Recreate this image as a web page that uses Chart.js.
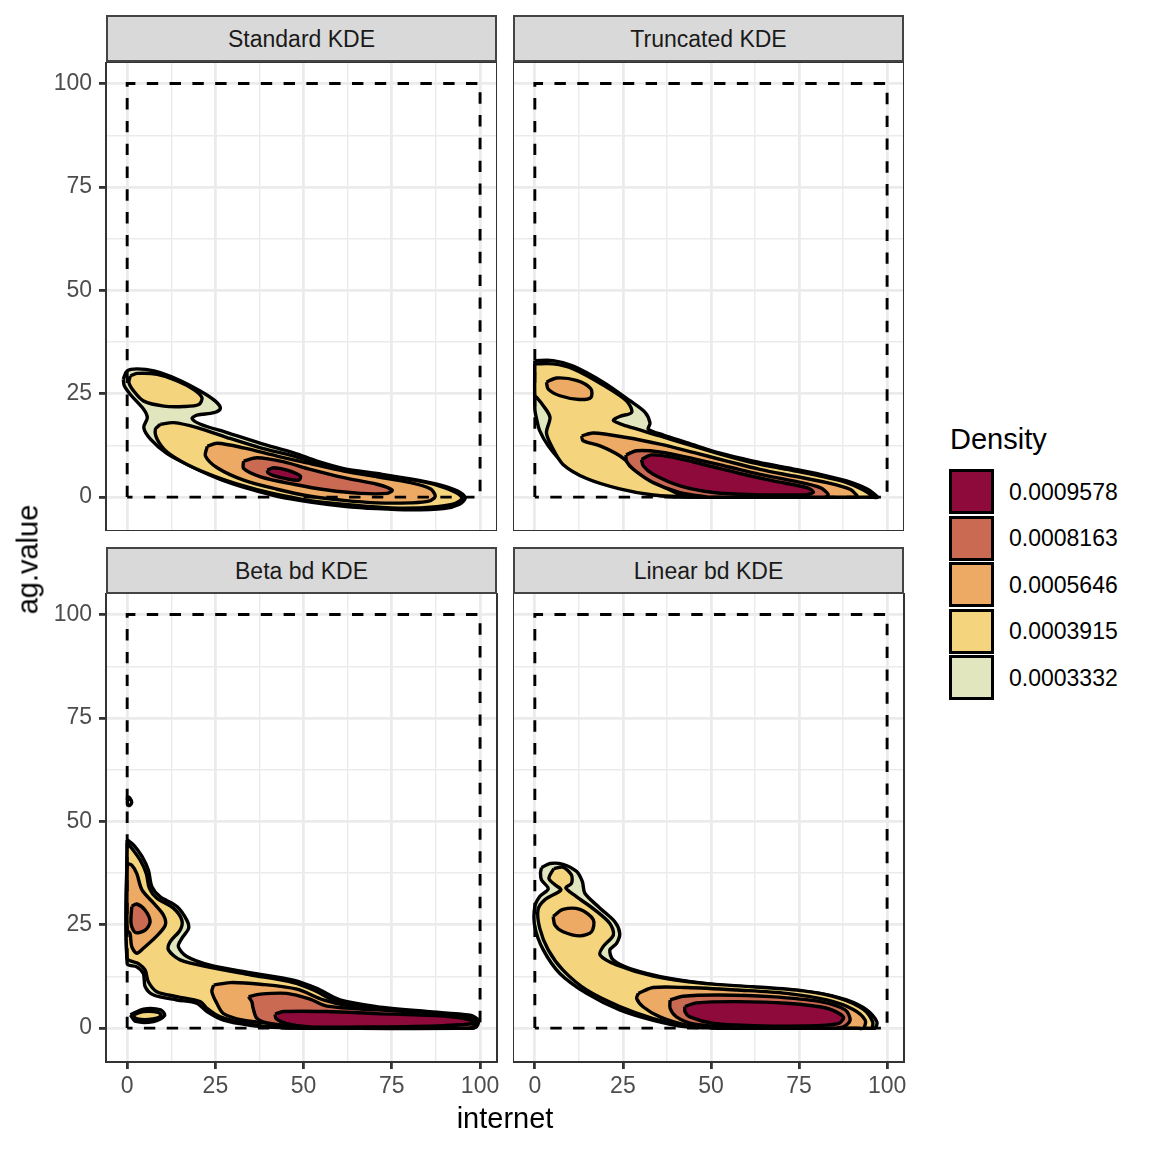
<!DOCTYPE html>
<html>
<head>
<meta charset="utf-8">
<script src="https://cdn.jsdelivr.net/npm/chart.js@4.4.1/dist/chart.umd.min.js"></script>
<style>
html,body{margin:0;padding:0;background:#fff;}
#wrap{position:relative;width:1152px;height:1152px;background:#fff;overflow:hidden;font-family:"Liberation Sans",Arial,Helvetica,sans-serif;}
canvas{position:absolute;}
.strip{position:absolute;box-sizing:border-box;background:#D9D9D9;border:2px solid #444;color:#1A1A1A;font-size:23px;line-height:23px;display:flex;align-items:center;justify-content:center;padding-top:1px;}
.txt{position:absolute;white-space:nowrap;color:#000;}
.key{position:absolute;box-sizing:border-box;border:3px solid #000;}
</style>
</head>
<body>
<div id="wrap">
  <canvas id="c0" width="497" height="469" style="left:0px;top:62px;"></canvas>
  <canvas id="c1" width="391" height="469" style="left:513px;top:62px;"></canvas>
  <canvas id="c2" width="507" height="517" style="left:0px;top:593px;"></canvas>
  <canvas id="c3" width="411" height="517" style="left:513px;top:593px;"></canvas>
</div>
<script>
// ---------- data ----------
const panelTitles = ['Standard KDE', 'Truncated KDE', 'Beta bd KDE', 'Linear bd KDE'];
const xMajor = [0, 25, 50, 75, 100];
const xMinor = [12.5, 37.5, 62.5, 87.5];
const yMajor = [0, 25, 50, 75, 100];
const yMinor = [12.5, 37.5, 62.5, 87.5];
const levelLabels = ['0.0009578', '0.0008163', '0.0005646', '0.0003915', '0.0003332'];
const xAxisTitle = 'internet';
const yAxisTitle = 'ag.value';
const legendTitle = 'Density';
const boundaryX = [0, 0, 100, 100, 0];
const boundaryY = [0, 100, 100, 0, 0];

// Standard KDE contours (level 1 = outermost)
const stdL1 = [[-1.1,28.5],[0,30.5],[2.8,31.0],[7.6,30.5],[14.2,28.5],[20.8,25.6],[25.0,23.2],[26.4,21.4],[24.6,20.4],[19.8,19.8],[18.4,19.0],[20.8,17.6],[28.3,15.6],[37.8,13.0],[47.2,10.7],[53.8,8.7],[61.4,6.9],[70.8,5.7],[80.3,4.4],[87.8,3.1],[93.5,1.5],[95.8,-0.2],[94.0,-1.8],[89.7,-2.8],[80.3,-3.1],[70.8,-2.8],[61.4,-2.2],[51.9,-1.2],[42.5,0.2],[34.9,1.9],[26.4,4.3],[18.9,7.1],[11.3,10.5],[6.6,14.0],[4.7,16.8],[5.7,19.2],[4.7,21.2],[0.9,24.8],[-0.8,26.9]];
const stdL2a = [[0.9,29.3],[2.8,29.9],[8.5,29.7],[14.2,28.1],[18.9,26.0],[21.2,24.0],[20.3,22.4],[16.1,21.9],[10.4,22.0],[4.7,23.2],[1.9,25.6],[0.5,27.7]];
const stdL2b = [[9.4,17.6],[13.2,18.0],[19.8,16.8],[28.3,14.4],[37.8,11.9],[47.2,9.9],[56.7,7.5],[66.1,6.0],[75.5,4.9],[85.0,3.5],[91.6,1.7],[94.9,-0.2],[93.0,-1.5],[87.8,-2.3],[78.4,-2.7],[68.9,-2.3],[59.5,-1.6],[50.0,-0.6],[40.6,1.0],[33.0,2.7],[24.6,5.1],[17.0,7.9],[11.3,10.9],[8.5,14.0],[8.0,16.4]];
const stdL3 = [[22.7,12.3],[25.5,13.0],[33.0,11.9],[42.5,9.9],[51.9,8.1],[61.4,6.3],[70.8,4.9],[80.3,3.5],[85.9,2.0],[87.3,0.2],[85.5,-1.0],[80.3,-1.4],[70.8,-1.4],[61.4,-0.8],[51.9,0.2],[42.5,1.9],[33.0,4.1],[25.5,7.1],[22.2,9.9]];
const stdL4 = [[33.0,8.7],[36.8,9.5],[44.4,8.5],[51.9,6.7],[61.4,4.7],[70.8,3.1],[75.1,1.7],[73.7,0.9],[66.1,0.9],[56.7,1.7],[47.2,3.1],[37.8,4.9],[33.0,6.9]];
const stdL5 = [[39.7,6.5],[41.5,7.1],[45.3,6.5],[49.1,5.1],[48.6,4.1],[45.3,4.4],[41.5,5.2],[39.9,5.9]];

// Truncated KDE contours
const trL1 = [[0,33.0],[5.2,33.0],[10.9,31.7],[19.4,27.8],[27.0,23.3],[31.3,20.5],[32.7,17.9],[32.2,16.4],[36.5,15.0],[43.1,13.2],[52.6,10.6],[62.0,8.7],[71.5,7.1],[81.0,5.5],[88.5,3.9],[94.2,2.0],[97.3,0],[95.5,0],[62.0,0],[40.0,0],[38.4,0.1],[33.6,0.6],[24.1,2.3],[14.7,4.7],[8.0,8.3],[3.8,12.4],[1.4,16.0],[0.5,18.9],[0,21.3]];
const trL2 = [[0,32.2],[5.2,32.2],[10.9,31.0],[19.4,27.1],[26.0,23.3],[27.5,20.5],[24.1,19.5],[22.3,18.5],[26.0,17.2],[35.5,14.8],[43.1,12.8],[52.6,10.4],[62.0,8.3],[71.5,6.7],[81.0,5.1],[88.5,3.5],[93.3,1.7],[95.9,0],[94.2,0],[60.0,0],[43.0,0],[41.2,0.1],[33.6,0.5],[24.1,2.0],[14.7,4.5],[8.0,7.9],[4.7,12.4],[3.3,15.6],[4.3,19.3],[2.4,22.1],[0.5,24.1],[0,24.5]];
const trL3a = [[3.3,27.8],[6.2,28.8],[11.8,28.2],[15.9,26.2],[15.9,24.1],[12.6,23.6],[7.1,24.5],[3.8,26.1]];
const trL3b = [[13.3,14.8],[16.6,15.5],[26.0,14.4],[35.5,12.8],[45.0,10.8],[54.5,8.7],[63.9,6.7],[73.4,5.1],[82.9,3.5],[89.5,1.9],[91.4,0.4],[91.4,0],[89.5,0],[48.0,0],[45.0,0.1],[41.2,0.6],[35.5,3.1],[28.9,6.7],[24.1,10.0],[18.5,12.4],[13.7,13.6]];
const trL4 = [[25.9,10.2],[28.9,11.2],[35.5,10.9],[45.0,9.3],[54.5,7.4],[63.9,5.5],[73.4,3.9],[81.0,2.3],[83.3,0.6],[82.5,0],[80.0,0],[50.0,0],[48.8,0.05],[41.2,1.1],[33.6,3.5],[28.0,6.7],[26.0,8.7]];
const trL5 = [[30.3,9.1],[33.1,10.2],[39.3,9.6],[48.8,7.7],[58.2,5.7],[67.7,3.9],[77.2,2.3],[79.1,1.2],[77.2,0.6],[62.0,0.6],[50.7,1.1],[41.2,2.7],[33.6,5.5],[30.8,7.5]];

// Beta bd KDE contours
const btDot = [[0.1,56.0],[0.8,55.6],[1.3,54.6],[0.7,53.8],[0.1,54.0]];
const btL1 = [[0,45.5],[1.8,44.3],[4.2,41.5],[6.0,38.2],[7.0,34.2],[9.3,31.8],[14.1,29.4],[16.9,26.1],[17.4,24.1],[15.5,21.7],[14.5,19.7],[16.9,17.3],[23.5,15.2],[34.8,13.4],[47.1,11.6],[53.7,9.6],[60.3,6.8],[70.7,5.2],[84.9,4.0],[97.2,3.1],[99.5,1.9],[99.0,0.3],[97.0,0],[89.6,0],[50.0,0],[44.0,0.1],[34.8,0.7],[27.3,1.9],[22.6,4.0],[19.7,6.0],[14.1,6.8],[7.5,8.0],[5.1,10.0],[4.6,13.2],[2.7,14.8],[0,15.6]];
const btL1s = [[0.9,3.2],[4.6,4.6],[9.5,4.4],[10.6,3.0],[7.5,1.6],[2.5,1.6]];
const btL2 = [[0,44.7],[1.3,43.5],[3.7,40.6],[5.4,37.4],[6.3,33.8],[8.4,31.4],[13.1,29.0],[15.5,26.1],[15.0,23.7],[12.2,20.9],[11.7,18.9],[15.0,16.5],[23.5,14.7],[34.8,12.9],[47.1,11.0],[52.8,9.2],[59.4,6.4],[70.7,4.8],[84.9,3.7],[96.7,2.7],[99.0,1.5],[98.6,0.3],[96.5,0],[50.0,0],[44.0,0.1],[34.8,0.9],[26.4,2.7],[22.6,4.8],[20.7,6.4],[14.1,7.6],[8.4,8.8],[6.0,11.2],[5.1,14.0],[3.2,15.6],[0,16.9]];
const btL2s = [[1.5,3.1],[4.6,4.0],[8.8,3.8],[9.6,3.0],[7.3,2.2],[2.9,2.2]];
const btL3a = [[0,39.8],[1.3,39.4],[2.7,37.4],[4.2,33.4],[7.5,30.2],[10.3,27.3],[10.8,24.9],[8.2,22.1],[4.6,19.3],[2.7,18.1],[1.3,19.7],[0.8,22.9],[0,23.7]];
const btL3b = [[24.5,10.4],[29.2,11.0],[37.7,10.6],[48.1,9.4],[55.6,6.8],[63.2,5.3],[75.4,4.4],[89.6,3.5],[97.6,2.7],[99.0,1.1],[98.1,0],[96.0,0],[50.0,0],[48.1,0.05],[40.5,1.1],[32.9,1.9],[27.3,3.5],[25.4,6.0],[24.0,8.8]];
const btL4a = [[1.3,29.4],[2.7,30.0],[5.1,28.5],[6.5,25.7],[5.1,23.7],[2.3,23.1],[1.1,25.3]];
const btL4b = [[34.4,7.6],[37.7,8.2],[45.2,8.4],[51.8,7.0],[56.6,5.3],[70.7,4.4],[89.6,3.5],[98.1,2.3],[98.6,0.7],[97.0,0],[53.0,0],[51.8,0.05],[40.5,1.1],[36.8,2.3],[35.7,4.8],[35.3,6.4]];
const btL5 = [[41.9,3.4],[44.3,4.0],[56.6,4.0],[70.7,3.5],[89.6,2.9],[97.6,1.9],[98.1,1.1],[89.6,0.6],[70.7,0.3],[51.8,0.3],[45.2,1.1],[42.2,2.3]];

// Linear bd KDE contours
const lnL1 = [[1.9,38.8],[4.3,39.8],[8.0,39.6],[11.8,37.9],[13.5,35.4],[14.2,32.6],[18.5,29.0],[22.7,25.7],[24.1,22.9],[23.2,20.5],[21.3,18.9],[22.2,16.5],[27.0,14.4],[38.4,12.0],[52.6,10.4],[66.8,9.6],[81.0,8.4],[88.5,6.8],[94.2,4.4],[97.1,1.5],[96.6,0],[95.0,0],[54.0,0],[52.6,0],[43.1,0.3],[33.6,1.9],[24.1,4.4],[14.7,8.4],[7.1,13.2],[2.4,18.9],[0,24.5],[0,29.4],[1.4,31.8],[3.8,33.7],[1.9,35.8],[1.6,37.5]];
const lnL2 = [[5.4,38.6],[8.0,38.9],[10.4,37.0],[10.4,35.0],[8.8,33.9],[11.8,31.8],[17.0,28.6],[21.3,25.3],[22.3,22.5],[19.4,19.7],[18.5,17.7],[23.2,15.3],[33.6,12.6],[47.8,10.8],[62.0,10.0],[76.2,9.0],[86.6,7.2],[93.3,4.5],[95.9,1.5],[95.6,0],[94.0,0],[56.0,0],[54.5,0],[43.1,0.5],[33.6,2.3],[24.1,5.2],[14.7,9.2],[8.0,14.0],[3.8,18.9],[1.4,24.1],[0.9,28.6],[2.8,31.0],[7.4,33.4],[5.8,34.6],[4.0,36.2]];
const lnL3a = [[5.2,27.0],[8.0,28.7],[12.8,28.7],[16.6,26.2],[16.1,23.3],[12.8,22.3],[8.0,23.3],[5.7,24.9]];
const lnL3b = [[29.4,8.4],[33.6,9.8],[43.1,9.8],[57.3,9.2],[71.5,8.4],[82.9,6.8],[90.4,4.5],[93.8,1.9],[93.3,0],[91.5,0],[54.0,0],[52.6,0],[43.1,0.7],[35.5,2.7],[30.8,5.1],[28.9,7.2]];
const lnL4 = [[38.4,6.8],[42.1,7.7],[52.6,8.0],[66.8,7.6],[81.0,6.4],[88.1,4.4],[89.5,1.9],[87.6,0.3],[85.0,0],[58.0,0],[57.3,0],[45.0,1.0],[40.2,2.7],[38.4,4.8]];
const lnL5 = [[42.6,5.2],[45.9,6.1],[57.3,6.4],[71.5,6.0],[82.9,4.8],[87.6,2.7],[86.2,1.1],[76.2,0.5],[62.0,0.6],[50.7,1.1],[44.0,2.7],[42.6,4.0]];

// ---------- styles ----------
const FONT = '"Liberation Sans", Arial, Helvetica, sans-serif';
const fillByLevel = ['#E1E6BF', '#F4D57E', '#EDAA65', '#CB6A53', '#8D0A3B']; // level 1..5
const legendColors = ['#8D0A3B', '#CB6A53', '#EDAA65', '#F4D57E', '#E1E6BF'];

// panels: [level, polygon] in drawing order
const panels = [
  {id:'c0', title:0, layers:[[1,stdL1],[2,stdL2a],[2,stdL2b],[3,stdL3],[4,stdL4],[5,stdL5]], showX:false, showY:true, padR:0, xmin:-6.0, xmax:104.8},
  {id:'c1', title:1, layers:[[1,trL1],[2,trL2],[3,trL3a],[3,trL3b],[4,trL4],[5,trL5]], showX:false, showY:false, padR:0, xmin:-6.2, xmax:104.8},
  {id:'c2', title:2, layers:[[1,btDot],[1,btL1],[1,btL1s],[2,btL2],[2,btL2s],[3,btL3a],[3,btL3b],[4,btL4a],[4,btL4b],[5,btL5]], showX:true, showY:true, padR:10, xmin:-6.0, xmax:104.8},
  {id:'c3', title:3, layers:[[1,lnL1],[2,lnL2],[3,lnL3a],[3,lnL3b],[4,lnL4],[5,lnL5]], showX:true, showY:false, padR:20, xmin:-6.2, xmax:104.8}
];

const panelBorder = {
  id: 'panelBorder',
  afterDraw(chart) {
    const {ctx, chartArea: a} = chart;
    ctx.save();
    ctx.strokeStyle = '#333333';
    ctx.lineWidth = 2;
    ctx.strokeRect(a.left, a.top, a.right - a.left, a.bottom - a.top);
    ctx.restore();
  }
};

function fixSize(prop, v) {
  return s => { s[prop] = v; s.paddingLeft = 0; s.paddingRight = 0; s.paddingTop = 0; s.paddingBottom = 0; };
}
function axisCfg(major, minor, min, max, show, pos, sizeProp, size, pad) {
  const all = major.concat(minor).sort((a, b) => a - b);
  return {
    type: 'linear', position: pos, min: min, max: max,
    afterBuildTicks: s => { s.ticks = all.map(v => ({value: v})); },
    afterFit: fixSize(sizeProp, size),
    ticks: {
      display: show, autoSkip: false, maxRotation: 0, minRotation: 0, padding: pad,
      color: '#4D4D4D', font: {family: FONT, size: 23},
      callback: v => major.includes(v) ? String(v) : ''
    },
    grid: {
      color: '#EBEBEB',
      lineWidth: c => (c.tick && major.includes(c.tick.value)) ? 2.8 : 1.4,
      drawTicks: show, tickLength: 7, tickWidth: 2.8,
      tickColor: c => (c.tick && major.includes(c.tick.value)) ? '#333333' : 'rgba(0,0,0,0)'
    },
    border: {display: false}
  };
}

const toPts = poly => poly.concat([poly[0]]).map(p => ({x: p[0], y: p[1]}));

panels.forEach(p => {
  const datasets = p.layers.map((l, k) => ({
    data: toPts(l[1]),
    showLine: true,
    fill: 'shape',
    backgroundColor: fillByLevel[l[0] - 1],
    borderColor: '#000000',
    borderWidth: 3.4,
    borderJoinStyle: 'round',
    pointRadius: 0,
    pointHoverRadius: 0,
    tension: 0.3,
    order: 1000 - k
  }));
  datasets.push({
    data: boundaryX.map((x, i) => ({x: x, y: boundaryY[i]})),
    showLine: true, fill: false,
    borderColor: '#000000', borderWidth: 2.9, borderDash: [11.4, 11.4],
    borderCapStyle: 'butt', pointRadius: 0, tension: 0, order: 0
  });
  new Chart(document.getElementById(p.id), {
    type: 'scatter',
    data: {datasets: datasets},
    options: {
      responsive: false, maintainAspectRatio: false, animation: false,
      events: [],
      layout: {padding: {left: 0, right: p.padR, top: 0, bottom: 0}, autoPadding: false},
      plugins: {legend: {display: false}, tooltip: {enabled: false}, title: {display: false}},
      scales: {
        x: axisCfg(xMajor, xMinor, p.xmin, p.xmax, p.showX, 'bottom', 'height', p.showX ? 48 : 0, 4),
        y: axisCfg(yMajor, yMinor, -8.2, 105.2, p.showY, 'left', 'width', p.showY ? 106 : 0, 7)
      }
    },
    plugins: [panelBorder]
  });
});

// ---------- text: strips, axis titles, legend ----------
const wrap = document.getElementById('wrap');
function addDiv(cls, text, style) {
  const d = document.createElement('div');
  d.className = cls;
  d.textContent = text;
  Object.assign(d.style, style);
  wrap.appendChild(d);
  return d;
}
const stripPos = [[106, 15], [513, 15], [106, 547], [513, 547]];
panelTitles.forEach((t, i) => {
  addDiv('strip', t, {left: stripPos[i][0] + 'px', top: stripPos[i][1] + 'px', width: '391px', height: '47px'});
});
addDiv('txt', xAxisTitle, {left: '405px', top: '1104px', width: '200px', textAlign: 'center', fontSize: '29px', lineHeight: '29px'});
addDiv('txt', yAxisTitle, {left: '-72px', top: '545px', width: '200px', textAlign: 'center', fontSize: '29px', lineHeight: '29px', transform: 'rotate(-90deg)'});
addDiv('txt', legendTitle, {left: '950px', top: '425px', fontSize: '29px', lineHeight: '29px'});
levelLabels.forEach((lab, i) => {
  const top = 469 + i * 46.5;
  const k = addDiv('key', '', {left: '949px', top: top + 'px', width: '45px', height: '45px'});
  k.style.background = legendColors[i];
  addDiv('txt', lab, {left: '1009px', top: (top + 22.5 - 11) + 'px', fontSize: '23px', lineHeight: '23px'});
});
</script>
</body>
</html>
